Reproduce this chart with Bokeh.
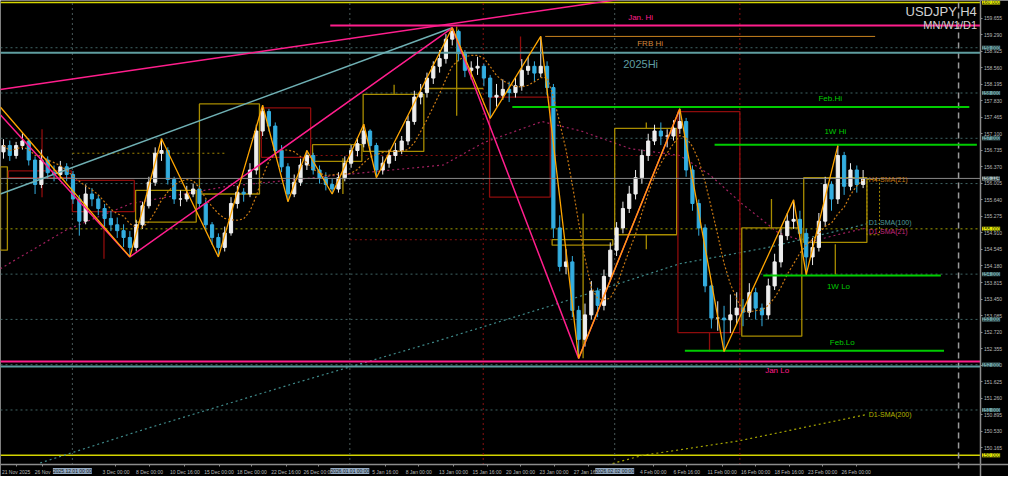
import pandas as pd
from bokeh.plotting import figure
from bokeh.models import Range1d, FixedTicker, PrintfTickFormatter, Label, ColumnDataSource, LinearAxis
from bokeh.embed import file_html
from bokeh.resources import INLINE

# ---------------- data (USDJPY H4, one candle = 3 H4 bars) ----------------
first_open = 156.70
closes = [
    156.84, 156.62, 156.84, 156.94, 156.52, 155.98, 156.52, 156.24, 156.20, 156.37,
    156.20, 155.66, 155.17, 155.77, 155.66, 155.45, 155.23, 155.09, 154.96, 154.81,
    154.59, 155.09, 155.51, 156.03, 156.67, 156.73, 156.09, 155.66, 155.66, 155.77,
    155.88, 155.56, 155.09, 154.81, 154.59, 154.91, 155.56, 155.81, 155.77, 156.30,
    157.16, 157.59, 157.27, 156.73, 156.37, 155.77, 156.03, 156.41, 156.62, 156.30,
    156.13, 155.98, 155.88, 156.13, 156.45, 156.73, 156.88, 157.16, 156.84, 156.30,
    156.45, 156.62, 156.73, 156.94, 157.37, 157.91, 158.01, 158.33, 158.59, 158.76,
    159.19, 159.36, 158.87, 158.50, 158.55, 158.59, 158.33, 157.91, 157.95, 158.08,
    158.01, 158.16, 158.50, 158.59, 158.44, 158.59, 158.12, 155.02, 154.17, 154.27,
    153.20, 152.56, 153.10, 153.63, 153.31, 153.95, 154.53, 155.02, 155.45, 155.77,
    156.13, 156.62, 156.94, 157.16, 157.05, 157.05, 157.22, 157.37, 156.30, 155.56,
    155.02, 153.74, 153.03, 153.03, 152.99, 153.10, 153.25, 153.16, 153.59, 153.25,
    153.10, 153.74, 154.27, 154.85, 155.17, 155.21, 154.90, 154.38, 154.59, 155.17,
    155.98, 155.66, 156.62, 155.94, 156.30, 155.98, 156.11]
highs = [
    156.98, 156.95, 156.92, 157.11, 157.00, 156.60, 156.75, 156.60, 156.40, 156.50,
    156.45, 156.28, 155.75, 155.98, 155.90, 155.75, 155.55, 155.40, 155.25, 155.10,
    154.95, 155.20, 155.60, 156.15, 156.80, 156.99, 156.80, 156.15, 155.85, 155.95,
    156.00, 155.95, 155.65, 155.15, 154.90, 155.05, 155.70, 155.95, 155.90, 156.45,
    157.30, 157.73, 157.65, 157.35, 156.85, 156.45, 156.20, 156.55, 156.73, 156.68,
    156.40, 156.25, 156.10, 156.25, 156.60, 156.85, 157.00, 157.31, 157.20, 156.90,
    156.60, 156.75, 156.90, 157.05, 157.50, 158.05, 158.20, 158.45, 158.70, 158.95,
    159.30, 159.44, 159.40, 158.95, 158.70, 158.80, 158.65, 158.40, 158.20, 158.30,
    158.25, 158.35, 158.75, 158.80, 158.70, 159.25, 158.70, 158.20, 155.30, 154.55,
    154.40, 153.30, 153.35, 153.85, 153.70, 154.10, 154.70, 155.15, 155.60, 155.95,
    156.30, 156.75, 157.10, 157.30, 157.35, 157.20, 157.40, 157.65, 157.45, 156.40,
    155.65, 155.10, 153.85, 153.40, 153.30, 153.55, 153.60, 153.45, 153.80, 153.70,
    153.35, 153.90, 154.45, 155.00, 155.35, 155.64, 155.40, 155.00, 154.80, 155.35,
    156.15, 156.05, 156.84, 156.70, 156.45, 156.40, 156.30]
lows = [
    156.55, 156.50, 156.55, 156.75, 156.40, 155.77, 155.90, 156.10, 156.05, 156.10,
    156.05, 155.55, 154.85, 155.10, 155.50, 155.30, 155.05, 154.95, 154.80, 154.60,
    154.38, 154.50, 155.00, 155.45, 155.95, 156.50, 155.98, 155.55, 155.50, 155.60,
    155.70, 155.45, 154.95, 154.65, 154.38, 154.50, 154.85, 155.45, 155.60, 155.70,
    156.20, 157.05, 157.15, 156.60, 156.25, 155.60, 155.70, 155.95, 156.30, 156.20,
    156.00, 155.85, 155.77, 155.80, 156.05, 156.35, 156.60, 156.80, 156.70, 156.13,
    156.20, 156.35, 156.50, 156.65, 156.85, 157.30, 157.75, 157.90, 158.20, 158.45,
    158.65, 159.05, 158.70, 158.35, 158.30, 158.40, 158.15, 157.44, 157.70, 157.85,
    157.80, 157.90, 158.05, 158.40, 158.25, 158.35, 157.95, 154.80, 154.06, 154.00,
    153.05, 152.14, 152.40, 153.00, 153.05, 153.20, 153.85, 154.40, 154.90, 155.35,
    155.65, 156.00, 156.50, 156.85, 156.85, 156.80, 156.95, 157.10, 156.15, 155.40,
    154.85, 153.60, 152.80, 152.75, 152.29, 152.70, 152.90, 152.85, 153.05, 153.00,
    152.85, 153.00, 153.65, 154.15, 154.75, 155.00, 154.75, 153.99, 154.20, 154.50,
    155.05, 155.40, 155.55, 155.75, 155.85, 155.80, 155.90]

# daily moving averages (candle index, price)
d1_sma21_x = [-0.5, 10.0, 20.2, 35.4, 46.3, 54.0, 69.6, 75.9, 85.2, 91.4, 99.2, 107.0, 111.7, 116.8, 122.6, 127.3, 131.9, 136.6]
d1_sma21_y = [154.12, 154.98, 155.56, 155.94, 156.09, 156.20, 156.41, 156.90, 157.37, 157.16, 156.77, 156.62, 156.20, 155.56, 154.91, 154.70, 154.87, 155.02]
d1_sma100_x = [5.8, 22.9, 46.3, 68.1, 86.8, 107.0, 121.0, 136.6]
d1_sma100_y = [149.83, 150.60, 151.60, 152.50, 153.31, 154.23, 154.59, 155.11]
d1_sma200_x = [95.6, 101.2, 116.4, 136.6]
d1_sma200_y = [149.79, 150.00, 150.32, 150.90]

# zigzag pivots
zz_small_x = [-0.5, 20, 25, 34, 41, 45, 48, 52, 57, 59, 71, 77, 85, 91, 107, 114, 125, 127, 132]
zz_small_y = [157.69, 154.38, 156.99, 154.38, 157.73, 155.60, 156.73, 155.77, 157.31, 156.13,
              159.44, 157.44, 159.25, 152.14, 157.65, 152.29, 155.64, 153.99, 156.84]
zz_big_x = [-0.5, 20, 71, 91, 107]
zz_big_y = [157.52, 154.38, 159.44, 152.14, 157.65]
trend_pink_x = [-0.5, 100.0]
trend_pink_y = [158.08, 160.12]
trend_teal_x = [-0.5, 71]
trend_teal_y = [155.77, 159.44]

# labelled levels
level_names = ["Jan. Hi", "FRB Hi", "2025Hi", "Feb.Hi", "1W Hi", "1W Lo", "Feb.Lo", "Jan Lo"]
level_prices = [159.49, 159.25, 158.89, 157.69, 156.86, 153.97, 152.31, 152.07]
level_from = [51.7, 85.7, -0.5, 80.5, 112.5, 120.2, 107.8, -0.5]
level_to = [154.5, 137.9, 154.5, 152.8, 154.0, 148.3, 148.8, 154.5]
low_2025 = 151.96
bid = 156.114
round_levels = [151, 152, 153, 154, 156, 157, 158, 159]

# range boxes (left, right, top, bottom)
gold_boxes = [(-0.47, 0.62, 156.37, 154.53), (20.9, 30.5, 155.85, 155.15), (31.0, 40.5, 157.76, 155.77),
              (48.9, 56.7, 156.86, 156.49), (56.9, 66.5, 157.97, 156.71), (86.8, 96.4, 154.76, 154.64),
              (96.7, 106.5, 157.22, 154.87), (116.8, 126.3, 155.02, 152.63), (126.6, 136.6, 156.13, 154.70)]
red_boxes = [(0.78, 10.75, 156.28, 156.13), (10.9, 20.7, 156.07, 155.38), (40.8, 48.6, 157.67, 156.58),
             (76.9, 86.5, 157.91, 155.70), (106.7, 116.5, 157.59, 152.71)]
open_box = (136.6, 138.6, 156.09, 154.87)
gold_sticks = [(53.7, 156.56, 155.77), (61.8, 158.18, 157.97), (71.7, 159.47, 157.50), (91.7, 155.34, 152.14),
               (101.7, 157.35, 157.22), (101.7, 154.87, 154.55), (121.5, 155.66, 155.02), (131.6, 154.66, 153.99)]
red_sticks = [(6.1, 157.20, 155.70), (15.9, 155.34, 154.34), (81.8, 159.25, 158.70), (111.7, 152.71, 152.29)]

# axes
price_ticks = [150.165, 150.530, 150.895, 151.260, 151.625, 151.990, 152.355, 152.720, 153.085,
               153.450, 153.815, 154.180, 154.545, 154.910, 155.275, 155.640, 156.005, 156.370,
               156.735, 157.100, 157.465, 157.830, 158.195, 158.560, 158.925, 159.290, 159.655]
time_pos = [2.0, 6.2, 17.8, 23.1, 28.7, 34.1, 39.3, 44.7, 49.8, 60.4, 65.7, 71.2, 76.5, 81.8,
            87.1, 92.5, 102.8, 108.1, 113.7, 119.0, 124.3, 129.6, 134.9]
time_labels = ["21 Nov 2025", "26 Nov", "3 Dec 00:00", "8 Dec 00:00", "10 Dec 16:00", "15 Dec 00:00",
               "18 Dec 00:00", "22 Dec 16:00", "26 Dec 00:00", "5 Jan 16:00", "8 Jan 00:00",
               "13 Jan 00:00", "15 Jan 16:00", "20 Jan 00:00", "23 Jan 00:00", "27 Jan 16:00",
               "4 Feb 00:00", "6 Feb 16:00", "11 Feb 00:00", "16 Feb 00:00", "18 Feb 16:00",
               "23 Feb 00:00", "26 Feb 00:00"]
month_pos = [10.9, 54.8, 96.7]
month_labels = ["2025.12.01 00:00", "2026.01.01 00:00", "2026.02.02 00:00"]
red_sep = [75.9, 116.5]
shift_pos = 151.1

# ---------------- figure ----------------
X0, XAX, XEND = -0.47, 154.5, 159.0      # chart left, price-scale line, canvas right
YAX, Y1, YBOT = 149.785, 160.043, 149.531  # time-scale line, chart top, canvas bottom
FONT = "Liberation Sans"

p = figure(width=1008, height=476, output_backend="svg", toolbar_location=None,
           x_range=Range1d(X0, XEND), y_range=Range1d(YBOT, Y1),
           x_axis_location=None, y_axis_location=None,
           background_fill_color="#000000", border_fill_color="#000000", outline_line_color=None,
           min_border_left=0, min_border_top=0, min_border_right=0, min_border_bottom=0)
p.grid.visible = False

ya = LinearAxis(fixed_location=XAX, ticker=FixedTicker(ticks=price_ticks),
                formatter=PrintfTickFormatter(format="%.3f"))
xa = LinearAxis(fixed_location=YAX, ticker=FixedTicker(ticks=time_pos),
                major_label_overrides={float(v): t for v, t in zip(time_pos, time_labels)})
for ax in (xa, ya):
    ax.major_label_text_font_size = "5px"
    ax.major_label_text_font = FONT
    ax.major_label_text_color = "#b8b8b8"
    ax.axis_line_color = "#8c8c8c"
    ax.axis_line_width = 1.5
    ax.major_tick_line_color = "#8c8c8c"
    ax.major_tick_in = 0
    ax.major_tick_out = 2
    ax.minor_tick_line_color = None
    ax.major_label_standoff = 2
p.add_layout(ya, "right")
p.add_layout(xa, "below")

# round-number levels
n = len(round_levels)
p.segment(x0=[X0] * n, x1=[XAX] * n, y0=round_levels, y1=round_levels,
          line_color="#3f6464", line_dash="2 3", line_width=1)
p.segment(x0=[X0], x1=[XAX], y0=[155.0], y1=[155.0], line_color="#a0a000", line_dash="2 3", line_width=1)
p.segment(x0=[X0, X0], x1=[XAX, XAX], y0=[150.0, 160.0], y1=[150.0, 160.0], line_color="#d4d400", line_width=1.5)

# separators
p.segment(x0=month_pos, x1=month_pos, y0=[YAX] * 3, y1=[Y1] * 3, line_color="#4a5a5a", line_dash="2 3", line_width=1)
p.segment(x0=red_sep, x1=red_sep, y0=[YAX] * 2, y1=[Y1] * 2, line_color="#8b1010", line_dash="2 3", line_width=1)
p.segment(x0=[shift_pos], x1=[shift_pos], y0=[YAX - 0.08], y1=[Y1], line_color="#9a9a9a", line_dash="6 4", line_width=1.5)

# extra dotted range lines
p.segment(x0=[47.8, 54.8], x1=[107.0, 86.8], y0=[156.62, 154.76], y1=[156.62, 154.76],
          line_color="#8b1010", line_dash="2 3", line_width=1)
p.segment(x0=[10.9], x1=[35.4], y0=[156.67], y1=[156.67], line_color="#a08400", line_dash="2 3", line_width=1)
p.segment(x0=[66.5], x1=[75.9], y0=[158.10], y1=[158.10], line_color="#a08400", line_width=1.5)

# daily SMAs
p.line(d1_sma100_x, d1_sma100_y, line_color="#3f8a8a", line_dash="2 3", line_width=1.2)
p.line(d1_sma200_x, d1_sma200_y, line_color="#a8a800", line_dash="2 3", line_width=1.2)
p.line(d1_sma21_x, d1_sma21_y, line_color="#a0205e", line_dash="2 3", line_width=1.2)

# boxes
gb = list(zip(*gold_boxes))
p.quad(left=gb[0], right=gb[1], top=gb[2], bottom=gb[3], fill_color=None, line_color="#a88c00", line_width=1.3)
rb = list(zip(*red_boxes))
p.quad(left=rb[0], right=rb[1], top=rb[2], bottom=rb[3], fill_color=None, line_color="#8e0c0c", line_width=1.3)
p.quad(left=[open_box[0]], right=[open_box[1]], top=[open_box[2]], bottom=[open_box[3]], fill_color=None,
       line_color="#a88c00", line_dash="2 2", line_width=1)
gs = list(zip(*gold_sticks))
p.segment(x0=gs[0], x1=gs[0], y0=gs[1], y1=gs[2], line_color="#a88c00", line_width=1.3)
rs = list(zip(*red_sticks))
p.segment(x0=rs[0], x1=rs[0], y0=rs[1], y1=rs[2], line_color="#8e0c0c", line_width=1.3)

# candles
opens = [first_open] + closes[:-1]
idx = list(range(len(closes)))
bull, bear = "#eeeeee", "#34aee0"
cols = [bull if c >= o else bear for o, c in zip(opens, closes)]
src = ColumnDataSource(dict(x=idx, o=opens, c=closes, h=highs, l=lows, col=cols,
                            top=[max(o, c) for o, c in zip(opens, closes)],
                            bot=[min(o, c) for o, c in zip(opens, closes)]))
p.segment(x0="x", x1="x", y0="l", y1="h", line_color="col", line_width=1, source=src)
p.vbar(x="x", width=0.5, top="top", bottom="bot", fill_color="col", line_color="col", line_width=1, source=src)

# H4 SMA(21) = 7 candles of 3 bars
h4_sma = pd.Series(closes).rolling(7, min_periods=1).mean()
p.line(idx, h4_sma, line_color="#c87812", line_dash="2 2", line_width=1.2)

# levels
p.segment(x0=[X0], x1=[XAX], y0=[bid], y1=[bid], line_color="#8a8a8a", line_width=1)
p.segment(x0=[X0], x1=[XAX], y0=[low_2025], y1=[low_2025], line_color="#5f9ea0", line_width=2)
lv_color = {"Jan. Hi": "#ff1e8c", "FRB Hi": "#c8821e", "2025Hi": "#5f9ea0", "Feb.Hi": "#00cc00",
            "1W Hi": "#00cc00", "1W Lo": "#00cc00", "Feb.Lo": "#00cc00", "Jan Lo": "#ff1e8c"}
lv_width = {"FRB Hi": 1}
for nm, pr, a, b in zip(level_names, level_prices, level_from, level_to):
    p.segment(x0=[a], x1=[b], y0=[pr], y1=[pr], line_color=lv_color[nm], line_width=lv_width.get(nm, 2))

# zigzags and trend lines
p.line(trend_teal_x, trend_teal_y, line_color="#6fb0b4", line_width=1.5)
p.line(trend_pink_x, trend_pink_y, line_color="#ff1e8c", line_width=1.5)
p.line(zz_big_x, zz_big_y, line_color="#ff1e8c", line_width=1.5)
p.line(zz_small_x, zz_small_y, line_color="#ffa500", line_width=1.3)


def lab(x, y, text, color, size, align="left", baseline="middle", **kw):
    p.add_layout(Label(x=x, y=y, text=text, text_color=color, text_font_size=size, text_font=FONT,
                       text_align=align, text_baseline=baseline, **kw))


# level labels
lab(100.8, level_prices[0] + 0.17, "Jan. Hi", "#ff1e8c", "8px", "center")
lab(102.3, level_prices[1] - 0.15, "FRB Hi", "#d2873c", "8px", "center")
lab(100.8, level_prices[2] - 0.26, "2025Hi", "#5f9ea0", "11px", "center")
lab(130.8, level_prices[3] + 0.19, "Feb.Hi", "#00cc00", "8px", "center")
lab(131.6, level_prices[4] + 0.30, "1W Hi", "#00cc00", "8px", "center")
lab(132.1, level_prices[5] - 0.25, "1W Lo", "#00cc00", "8px", "center")
lab(132.7, level_prices[6] + 0.19, "Feb.Lo", "#00cc00", "8px", "center")
lab(122.4, level_prices[7] - 0.19, "Jan Lo", "#ff1e8c", "8px", "center")

# indicator labels
lab(136.9, h4_sma.iloc[-1], "H4-SMA(21)", "#c87812", "7px")
lab(136.9, d1_sma100_y[-1] + 0.02, "D1-SMA(100)", "#4f9a9a", "7px")
lab(136.9, d1_sma21_y[-1] - 0.08, "D1-SMA(21)", "#c8287d", "7px")
lab(136.9, d1_sma200_y[-1], "D1-SMA(200)", "#b4b400", "7px")

# title
lab(XAX, Y1, "USDJPY H4", "#d2d2d2", "13px", "right", "top", x_offset=-3, y_offset=-3)
lab(XAX, Y1, "MN/W1/D1", "#d2d2d2", "11px", "right", "top", x_offset=-3, y_offset=-18)

# price tags on the price scale
tag_prices = [160.0, 159.0, 158.0, 157.0, bid, 155.0, 154.0, 153.0, 152.0, 151.0, 150.0]
tag_bg = {160.0: "#f0f000", 155.0: "#f0f000", 150.0: "#f0f000", bid: "#a9bcbc"}
for pr in tag_prices:
    p.add_layout(Label(x=XAX, y=pr, x_offset=2, text="%.3f" % pr, text_font_size="5px", text_font=FONT,
                       text_color="#0c1c1c", text_baseline="middle", text_align="left",
                       background_fill_color=tag_bg.get(pr, "#6fa4a8")))

# month separator tags on the time scale
for k, t in zip(month_pos, month_labels):
    p.add_layout(Label(x=k, y=YAX, y_offset=-3, text=t, text_font_size="5px", text_font=FONT,
                       text_color="#101820", text_baseline="top", text_align="center",
                       background_fill_color="#93a8c0"))

open("out.html", "w").write(file_html(p, INLINE))
